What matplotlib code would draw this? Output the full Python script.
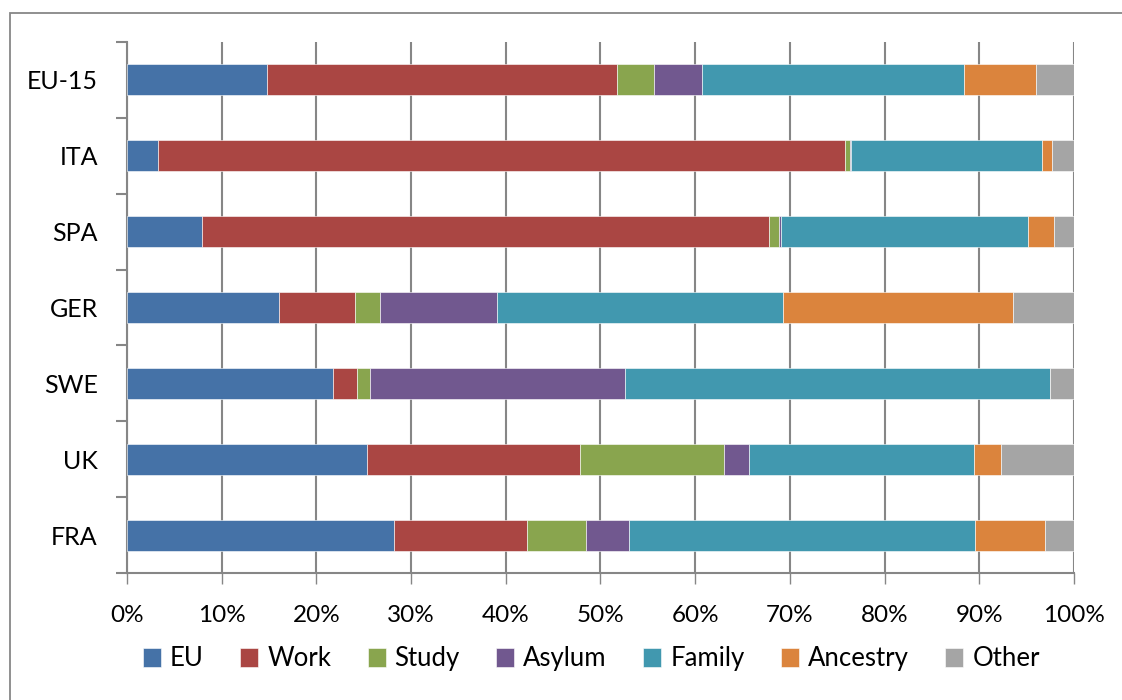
import matplotlib.pyplot as plt
from matplotlib.patches import Rectangle
from matplotlib.ticker import FixedLocator, PercentFormatter
import numpy as np

plt.rcParams['font.family'] = ['Lato', 'DejaVu Sans']

countries = ['FRA', 'UK', 'SWE', 'GER', 'SPA', 'ITA', 'EU-15']
categories = ['EU', 'Work', 'Study', 'Asylum', 'Family', 'Ancestry', 'Other']
colors = ['#4572A7', '#AA4643', '#89A54E', '#71588F', '#4198AF', '#DB843D', '#A5A5A5']

# shares (%) per country, same order as countries
eu       = [28.2, 25.3, 21.8, 16.1, 7.9, 3.3, 14.8]
work     = [14.0, 22.5, 2.5, 8.0, 59.9, 72.5, 36.9]
study    = [6.3, 15.2, 1.4, 2.6, 1.0, 0.5, 4.0]
asylum   = [4.5, 2.7, 26.9, 12.4, 0.3, 0.2, 5.0]
family   = [36.6, 23.7, 44.9, 30.2, 26.0, 20.1, 27.7]
ancestry = [7.3, 2.9, 0.0, 24.3, 2.8, 1.1, 7.6]
other    = [3.1, 7.7, 2.5, 6.4, 2.1, 2.3, 4.0]

series = [eu, work, study, asylum, family, ancestry, other]

fig = plt.figure(figsize=(11.22, 7), dpi=100)
ax = fig.add_axes([0.1132, 0.1814, 0.8440, 0.7586])

# outer chart frame
fig.patches.append(Rectangle((10 / 1122, -0.1), 1.2, 1 - 13 / 700 + 0.1,
                             transform=fig.transFigure, fill=False,
                             edgecolor='#878787', linewidth=1.3))

y = np.arange(len(countries))
left = np.zeros(len(countries))
for vals, name, col in zip(series, categories, colors):
    vals = np.array(vals)
    ax.barh(y, vals, left=left, height=0.41, color=col, label=name,
            edgecolor='white', linewidth=0.4, zorder=3)
    left += vals

ax.set_xlim(0, 100)
ax.set_ylim(-0.5, len(countries) - 0.5)
ax.xaxis.set_major_locator(FixedLocator(np.arange(0, 101, 10)))
ax.xaxis.set_major_formatter(PercentFormatter(decimals=0))
ax.grid(axis='x', color='#868686', linewidth=1.5, zorder=0)

ax.set_yticks(y)
ax.set_yticklabels(countries)
ax.yaxis.set_minor_locator(FixedLocator(np.arange(-0.5, len(countries), 1)))
ax.tick_params(axis='y', which='major', length=0, pad=21, labelsize=18)
ax.tick_params(axis='y', which='minor', length=8, width=1.5, color='#868686')
ax.tick_params(axis='x', length=8, width=1, color='#868686', labelsize=17.5, pad=15)

for s in ['top', 'right']:
    ax.spines[s].set_visible(False)
for s in ['left', 'bottom']:
    ax.spines[s].set_color('#868686')
    ax.spines[s].set_linewidth(1.5)

ax.legend(loc='center', bbox_to_anchor=(0.527, 0.059), bbox_transform=fig.transFigure,
          ncol=7, frameon=False, fontsize=18.5, handlelength=0.7, handleheight=0.75,
          handletextpad=0.35, columnspacing=1.42)

fig.savefig('out.png', dpi=100)
